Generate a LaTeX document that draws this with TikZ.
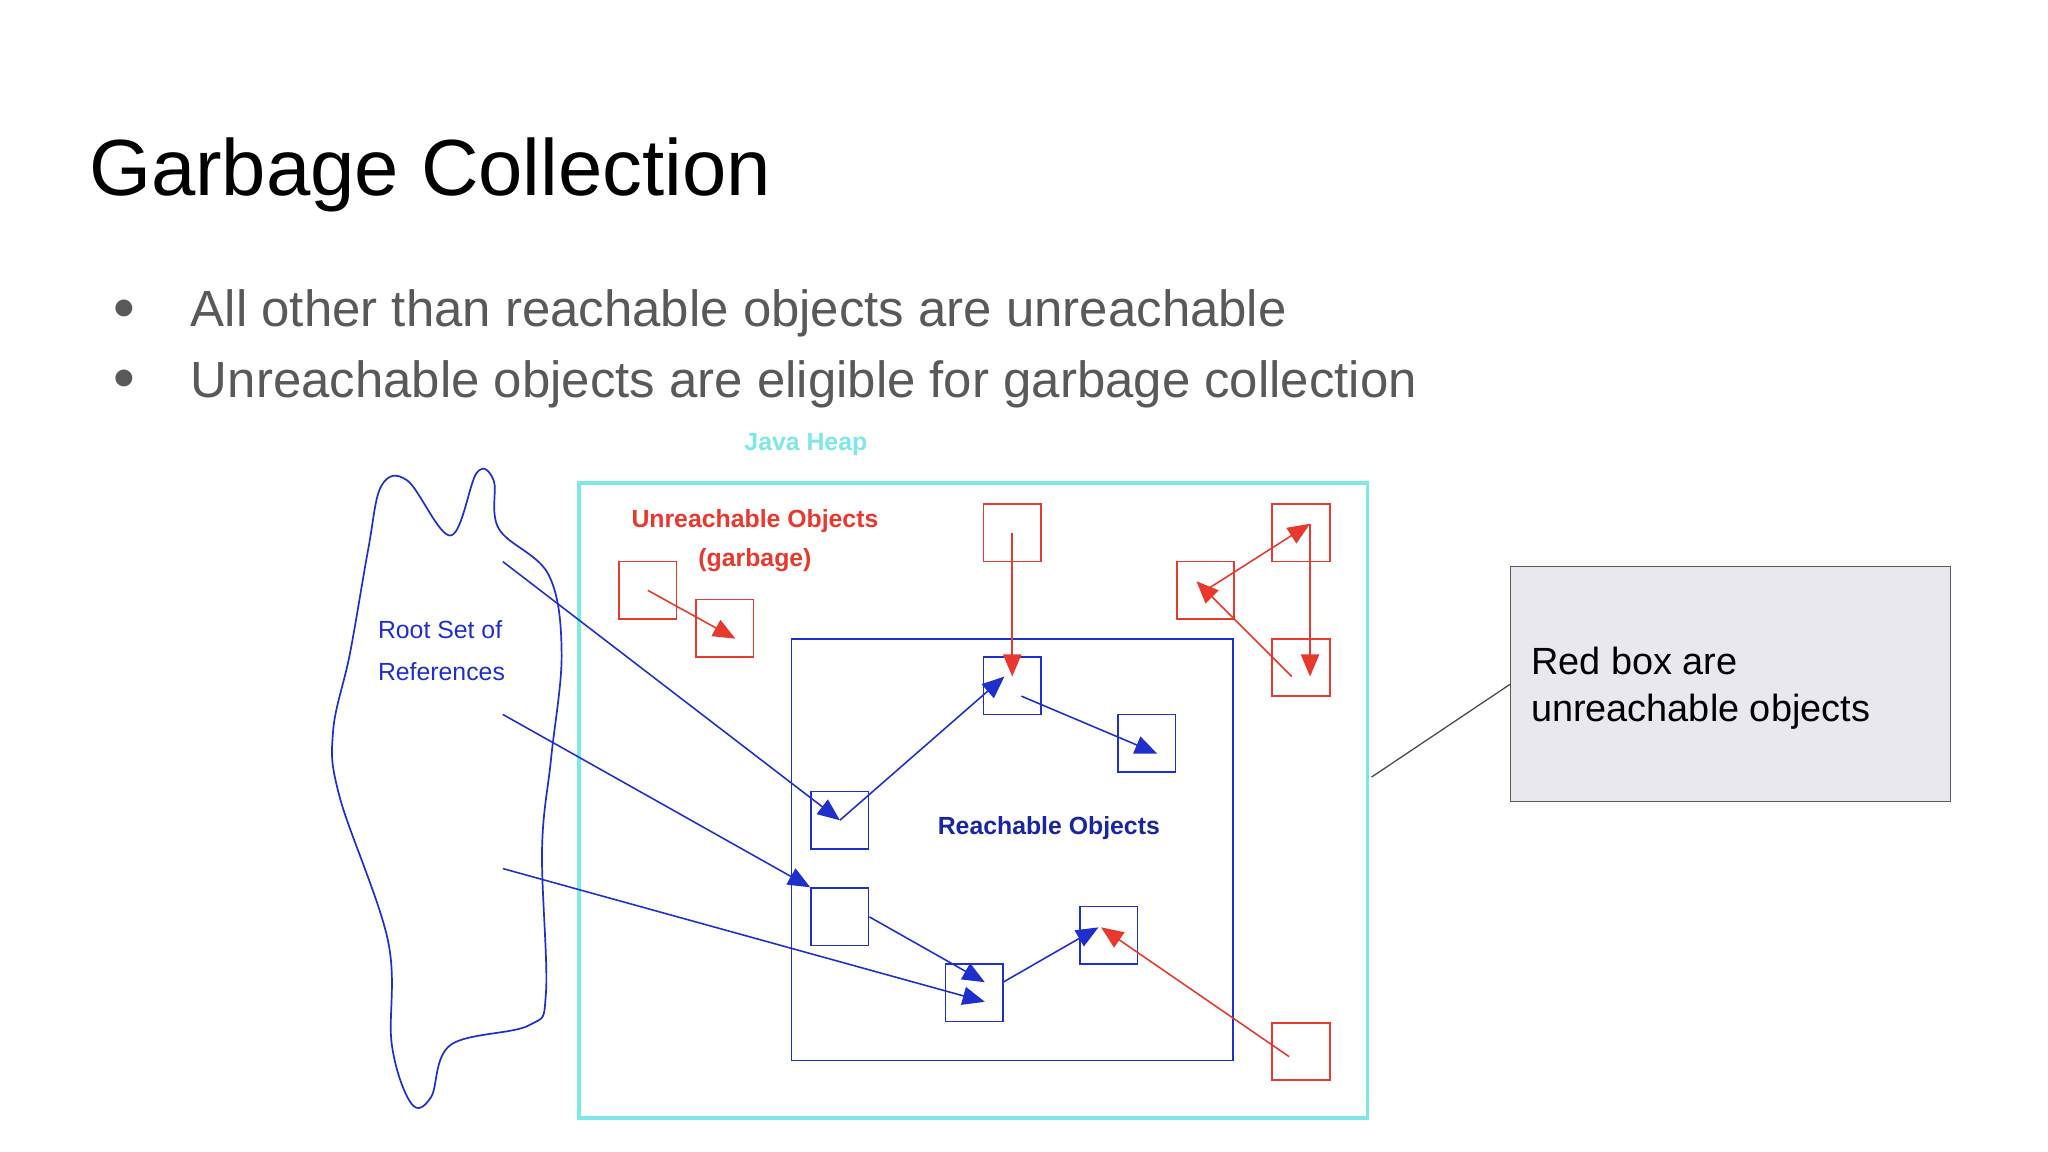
\documentclass[tikz,border=0pt]{standalone}
\usepackage{fontspec}
\setmainfont{Liberation Sans}
\usetikzlibrary{arrows.meta,calc}
\definecolor{rd}{HTML}{E8392E}
\definecolor{bl}{HTML}{1F2FCC}
\definecolor{cy}{HTML}{7EE8E8}
\definecolor{tx}{HTML}{595959}
\definecolor{cf}{HTML}{E9E8EE}
\tikzset{
 rbox/.style={draw=rd,line width=1.3pt,minimum size=44pt,inner sep=0pt},
 bbox/.style={draw=bl,line width=1.3pt,minimum size=44pt,inner sep=0pt},
 barr/.style={draw=bl,line width=1.2pt,-{Triangle[length=17pt,width=14pt]}},
 rarr/.style={draw=rd,line width=1.2pt,-{Triangle[length=17pt,width=14pt]}},
 small/.style={font=\fontsize{19}{26}\selectfont\bfseries}
}
\begin{document}
\begin{tikzpicture}[x=1pt,y=-1pt]
\useasboundingbox (0,0) rectangle (1568,882);
\fill[white] (0,0) rectangle (1568,882);
\node[anchor=base west,inner sep=0,font=\fontsize{61}{70}\selectfont] (title) at (68,150) {Garbage Collection};
\node[anchor=base west,inner sep=0,text=tx,font=\fontsize{39}{44}\selectfont] (b1) at (146,250) {All other than reachable objects are unreachable};
\node[anchor=base west,inner sep=0,text=tx,font=\fontsize{39}{44}\selectfont] (b2) at (146,304) {Unreachable objects are eligible for garbage collection};
\node[text=tx,font=\fontsize{30}{30}\selectfont] (d1) at (95,237) {●};
\node[text=tx,font=\fontsize{30}{30}\selectfont] (d2) at (95,291) {●};
% heap
\node[small,text=cy] (jh) at (617,340) {Java Heap};
\draw[cy,line width=3pt] (443,370) rectangle (1047,856);
\draw[bl,line width=1.3pt] (606,489) rectangle (944,812);
\node[small,text=rd] (u1) at (578,399) {Unreachable Objects};
\node[small,text=rd] (u2) at (578,429) {(garbage)};
\node[small,text=bl,align=left,font=\fontsize{19}{32}\selectfont] (root) at (338,498) {Root Set of\\References};
\node[small,text=bl!80!black] (reach) at (803,634) {Reachable Objects};
% blob
\draw[bl,line width=1.3pt] plot[smooth cycle,tension=0.6] coordinates {(292,372) (312,368) (345,410) (365,362) (378,368) (382,405) (420,440) (430,500) (422,580) (415,650) (418,760) (405,785) (345,800) (330,840) (315,845) (300,800) (297,720) (260,610) (255,560) (268,500) (282,420)};
% boxes
\node[rbox] (r1) at (496,452) {};
\node[rbox] (r2) at (555,481) {};
\node[rbox] (r3) at (775,408) {};
\node[rbox] (r4) at (996,408) {};
\node[rbox] (r5) at (923,452) {};
\node[rbox] (r6) at (996,511) {};
\node[rbox] (r7) at (996,805) {};
\node[bbox] (a1) at (775,525) {};
\node[bbox] (a2) at (878,569) {};
\node[bbox] (a3) at (643,628) {};
\node[bbox] (a4) at (643,702) {};
\node[bbox] (a5) at (746,760) {};
\node[bbox] (a6) at (849,716) {};
\coordinate (s1) at (385,430);
\coordinate (s2) at (385,547);
\coordinate (s3) at (385,665);
% arrows
\draw[barr] (s1) -- (a3.center);
\draw[barr] (s2) -- (a4.north west);
\draw[barr] (s3) -- ($(a5.center)+(8,7)$);
\draw[barr] (a4.east) -- ($(a5.center)+(8,-8)$);
\draw[barr] (a3.center) -- ($(a1.center)+(-6,-7)$);
\draw[barr] ($(a1.center)+(7,8)$) -- ($(a2.center)+(8,8)$);
\draw[barr] ($(a5.center)+(22,-8)$) -- ($(a6.center)+(-8,-6)$);
\draw[rarr] (r3.center) -- ($(a1.center)+(0,-7)$);
\draw[rarr] (r1.center) -- ($(r2.center)+(8,8)$);
\draw[rarr] (r5.center) -- ($(r4.center)+(7,-7)$);
\draw[rarr] ($(r4.center)+(7,-7)$) -- ($(r6.center)+(7,7)$);
\draw[rarr] ($(r6.center)+(-7,7)$) -- ($(r5.center)+(-7,-7)$);
\draw[rarr] ($(r7.center)+(-9,4)$) -- ($(a6.center)+(-6,-6)$);
% callout
\node[draw=black!65,fill=cf,minimum width=337pt,minimum height=180pt,anchor=north west] (call) at (1156,433) {};
\node[anchor=north west,align=left,font=\fontsize{29}{36}\selectfont,inner sep=0] (ct) at (1172,495) {Red box are\\unreachable objects};
\coordinate (tip) at (1050,595);
\draw[black!70,line width=1pt] ($(call.north west)+(0,91)$) -- (tip);
\end{tikzpicture}
\end{document}
